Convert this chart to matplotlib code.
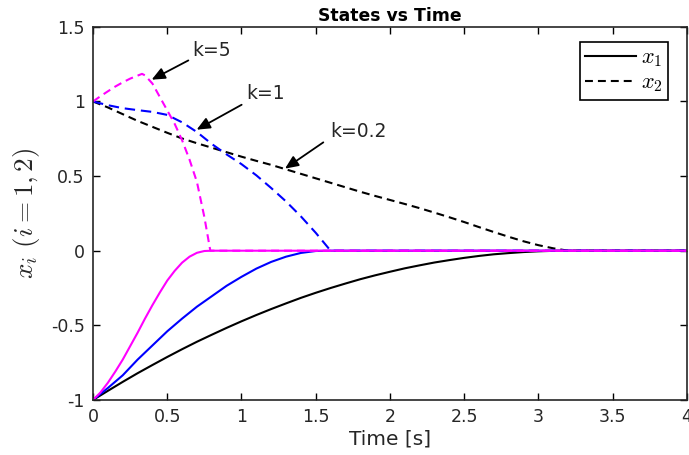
"""
plot.py
States vs Time for three gains k (x1 solid, x2 dashed)
"""

import matplotlib
matplotlib.use("Agg")
import matplotlib.pyplot as plt
from matplotlib.ticker import FormatStrFormatter

plt.rcParams["axes.unicode_minus"] = False
plt.rcParams["mathtext.fontset"] = "cm"

# -----------------------------------------------------------------------
# Data
# -----------------------------------------------------------------------

# k = 0.2 (black)
t_k02 = [0.0, 0.1, 0.2, 0.3, 0.4, 0.5, 0.6, 0.7, 0.8, 0.9, 1.0, 1.1, 1.2, 1.3,
         1.4, 1.5, 1.6, 1.7, 1.8, 1.9, 2.0, 2.1, 2.2, 2.3, 2.4, 2.5, 2.6, 2.7,
         2.8, 2.9, 3.0, 3.1, 3.2, 4.0]
x1_k02 = [-1.0, -0.939, -0.879, -0.821, -0.766, -0.712, -0.660, -0.610, -0.563,
          -0.517, -0.473, -0.431, -0.391, -0.353, -0.316, -0.282, -0.250,
          -0.220, -0.191, -0.165, -0.141, -0.118, -0.098, -0.079, -0.063,
          -0.048, -0.035, -0.024, -0.016, -0.009, -0.004, -0.001, 0.0, 0.0]
x2_k02 = [1.0, 0.96, 0.915, 0.87, 0.83, 0.79, 0.752, 0.72, 0.69, 0.66, 0.63,
          0.602, 0.575, 0.545, 0.515, 0.485, 0.455, 0.425, 0.395, 0.367, 0.34,
          0.313, 0.285, 0.255, 0.224, 0.192, 0.158, 0.125, 0.093, 0.063, 0.037,
          0.016, 0.0, 0.0]

# k = 1 (blue)
t_k1 = [0.0, 0.1, 0.2, 0.3, 0.4, 0.5, 0.6, 0.7, 0.8, 0.9, 1.0, 1.1, 1.2, 1.3,
        1.4, 1.5, 1.6, 4.0]
x1_k1 = [-1.0, -0.92, -0.835, -0.73, -0.635, -0.54, -0.455, -0.375, -0.305,
         -0.235, -0.175, -0.12, -0.075, -0.04, -0.015, -0.002, 0.0, 0.0]
x2_k1 = [1.0, 0.975, 0.955, 0.942, 0.93, 0.91, 0.86, 0.795, 0.715, 0.645,
         0.58, 0.505, 0.42, 0.33, 0.23, 0.12, 0.0, 0.0]

# k = 5 (magenta)
t_k5_x1 = [0.0, 0.05, 0.1, 0.15, 0.2, 0.25, 0.3, 0.35, 0.4, 0.45, 0.5, 0.55,
           0.6, 0.65, 0.7, 0.75, 0.8, 4.0]
x1_k5 = [-1.0, -0.95, -0.885, -0.81, -0.73, -0.64, -0.55, -0.455, -0.365,
         -0.28, -0.2, -0.135, -0.08, -0.04, -0.014, -0.002, 0.0, 0.0]
t_k5_x2 = [0.0, 0.05, 0.1, 0.15, 0.2, 0.25, 0.3, 0.33, 0.35, 0.4, 0.45, 0.5,
           0.55, 0.6, 0.65, 0.7, 0.75, 0.79, 4.0]
x2_k5 = [1.0, 1.035, 1.068, 1.1, 1.128, 1.153, 1.173, 1.185, 1.175, 1.12,
         1.03, 0.94, 0.85, 0.74, 0.61, 0.46, 0.225, 0.0, 0.0]

# annotation labels: (text, text pos, arrow tail, arrow tip)
labels = [
    ("k=5",   (0.80, 1.344), (0.642, 1.275), (0.395, 1.146)),
    ("k=1",   (1.165, 1.052), (1.001, 0.978), (0.698, 0.811)),
    ("k=0.2", (1.788, 0.80), (1.551, 0.726), (1.293, 0.55)),
]

x_ticks = [0, 0.5, 1, 1.5, 2, 2.5, 3, 3.5, 4]
y_ticks = [-1, -0.5, 0, 0.5, 1, 1.5]

# -----------------------------------------------------------------------
# Plot
# -----------------------------------------------------------------------

fig = plt.figure(figsize=(6.89, 4.55), dpi=100)
ax = fig.add_axes([0.135, 0.121, 0.862, 0.82])

dash = (0, (3.8, 2.4))
dash_blue = (0, (5.0, 2.8))

ax.plot(t_k02, x1_k02, color="black", lw=1.5, label="$x_1$")
ax.plot(t_k02, x2_k02, color="black", lw=1.5, linestyle=dash, label="$x_2$")
ax.plot(t_k1, x1_k1, color="#0000FF", lw=1.5)
ax.plot(t_k1, x2_k1, color="#0000FF", lw=1.5, linestyle=dash_blue)
ax.plot(t_k5_x1, x1_k5, color="#FF00FF", lw=1.5)
ax.plot(t_k5_x2, x2_k5, color="#FF00FF", lw=1.5, linestyle=dash)

for txt, pos, tail, tip in labels:
    ax.annotate("", xy=tip, xytext=tail,
                arrowprops=dict(arrowstyle="-|>,head_length=0.5,head_width=0.22",
                                color="black", lw=1.3,
                                mutation_scale=16, shrinkA=0, shrinkB=0))
    ax.text(pos[0], pos[1], txt, fontsize=13.5, color="#262626",
            ha="center", va="center")

ax.set_xlim(0, 4)
ax.set_ylim(-1, 1.5)
ax.set_xticks(x_ticks)
ax.set_yticks(y_ticks)
ax.xaxis.set_major_formatter(FormatStrFormatter("%g"))
ax.yaxis.set_major_formatter(FormatStrFormatter("%g"))
ax.tick_params(direction="in", top=True, right=True, length=5, width=1,
               labelsize=12.5, labelcolor="#262626", pad=6)
for sp in ax.spines.values():
    sp.set_linewidth(1.2)
    sp.set_color("#262626")

ax.set_title("States vs Time", fontsize=12.4, fontweight="bold", pad=4)
ax.set_xlabel("Time [s]", fontsize=14.5, color="#262626", labelpad=2)
ax.set_ylabel(r"$x_i\ (i=1,2)$", fontsize=19.5, color="#262626", labelpad=6)

leg = ax.legend(loc="upper right", bbox_to_anchor=(0.968, 0.96),
                borderaxespad=0, fontsize=16, handlelength=2.3,
                handletextpad=0.2, borderpad=0.25, labelspacing=0.15,
                fancybox=False, framealpha=1, edgecolor="black")
leg.get_frame().set_linewidth(1.2)

plt.savefig("out.png", dpi=100)
